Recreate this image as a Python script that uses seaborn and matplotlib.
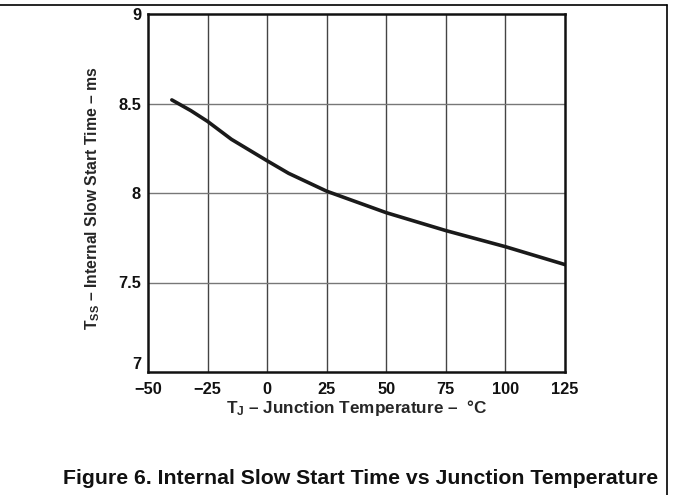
import matplotlib
matplotlib.use("Agg")
import matplotlib.pyplot as plt
import seaborn as sns
import pandas as pd
from matplotlib.lines import Line2D

temps = [-40, -32, -25, -15, 0, 9, 25, 50, 75, 100, 125]
tss = [8.52, 8.46, 8.40, 8.30, 8.18, 8.11, 8.01, 7.89, 7.79, 7.70, 7.60]
x_ticks = [-50, -25, 0, 25, 50, 75, 100, 125]
y_ticks = [7, 7.5, 8, 8.5, 9]
y_tick_labels = ["7", "7.5", "8", "8.5", "9"]

sns.set_theme(style="white")
plt.rcParams['font.family'] = ['Liberation Sans', 'DejaVu Sans']
plt.rcParams['font.weight'] = 'bold'
plt.rcParams['mathtext.fontset'] = 'custom'
plt.rcParams['mathtext.rm'] = 'Liberation Sans:bold'
plt.rcParams['mathtext.it'] = 'Liberation Sans:bold'
plt.rcParams['mathtext.default'] = 'rm'

fig = plt.figure(figsize=(6.73, 4.95), dpi=100)
ax = fig.add_axes([148/673, 1-372/495, (565-148)/673, (372-14)/495])

df = pd.DataFrame({"T": temps, "TSS": tss})
sns.lineplot(data=df, x="T", y="TSS", ax=ax, color="#1a1a1a", linewidth=2.6)

ax.set_xlim(-50, 125)
ax.set_ylim(7, 9)
ax.set_xticks(x_ticks)
ax.set_xticklabels([str(v).replace("-", "\u2212") for v in x_ticks], fontsize=11.8, fontweight='bold')
ax.set_yticks(y_ticks)
ax.set_yticklabels(y_tick_labels, fontsize=11.8, fontweight='bold')
ax.tick_params(axis='x', length=0, pad=7, colors='#111111')
ax.tick_params(axis='y', length=0, pad=5, colors='#111111')
ax.get_yticklabels()[0].set_va('bottom')
for xv in x_ticks[1:-1]:
    ax.axvline(xv, color='#444444', linewidth=1.0, zorder=0)
for yv in y_ticks[1:-1]:
    ax.axhline(yv, color='#777777', linewidth=1.0, zorder=0)
for s in ax.spines.values():
    s.set_color('#111111')
    s.set_linewidth(1.8)

ax.set_xlabel("T$_J$ \u2013 Junction Temperature \u2013  \u00b0C", fontsize=12.3, fontweight='bold', labelpad=1)
ax.set_ylabel("T$_{SS}$ \u2013 Internal Slow Start Time \u2013 ms", fontsize=11.3, fontweight='bold')
ax.yaxis.set_label_coords(-46/417, 0.486)

fig.text(63/673, 1-478/495, "Figure 6. Internal Slow Start Time vs Junction Temperature",
         fontsize=15.3, fontweight='bold', ha='left', va='center', color='#111111')

fig.add_artist(Line2D([0, 667/673], [1-5/495, 1-5/495], color='black', linewidth=1.2, transform=fig.transFigure))
fig.add_artist(Line2D([667/673, 667/673], [1-5/495, 0], color='black', linewidth=1.2, transform=fig.transFigure))

fig.savefig("out.png", dpi=100)
